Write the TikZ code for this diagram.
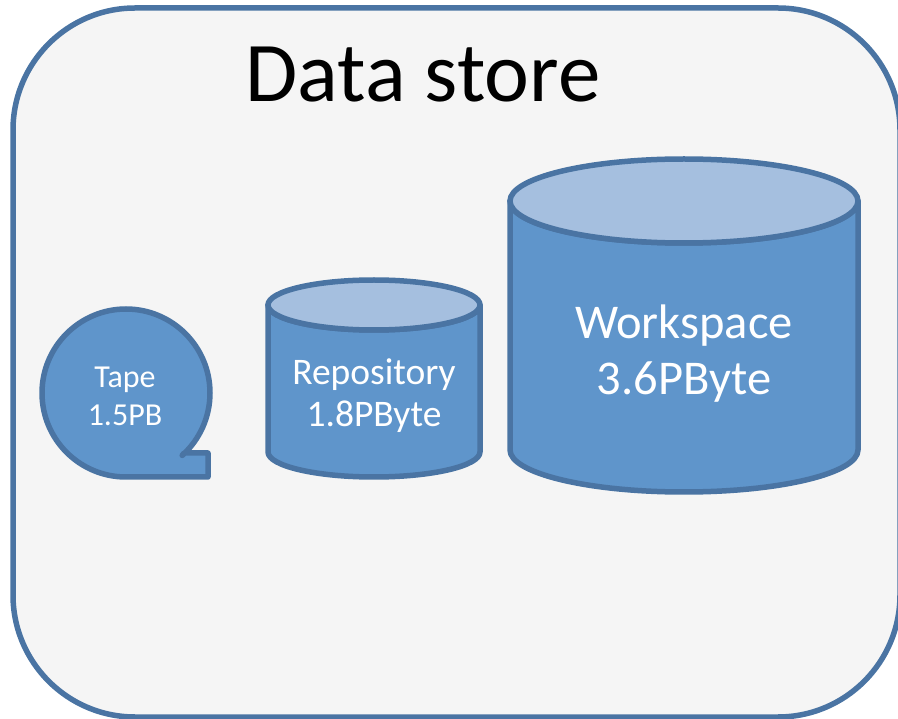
\documentclass[tikz,border=0pt]{standalone}
\usepackage{fontspec}
\setmainfont{Carlito}
\definecolor{edgeb}{HTML}{4A74A3}
\definecolor{fillb}{HTML}{5F95CB}
\definecolor{topb}{HTML}{A5BFDF}
\definecolor{panel}{HTML}{F5F5F5}
\tikzset{shp/.style={draw=edgeb,line width=5.5pt,line join=round,fill=fillb},
top/.style={draw=edgeb,line width=5.5pt,fill=topb},
lbl/.style={text=white,align=center,inner sep=0pt}}
\begin{document}
\begin{tikzpicture}[x=1pt,y=-1pt]
\useasboundingbox (0,0) rectangle (898,719);
\draw[draw=edgeb,line width=5.5pt,fill=panel] (13,130) arc[start angle=180,end angle=270,radius=122] -- (778,8) arc[start angle=270,end angle=360,radius=122] -- (900,595) arc[start angle=0,end angle=90,radius=122] -- (135,717) arc[start angle=90,end angle=180,radius=122] -- cycle;
\node[inner sep=0pt,font=\fontsize{85}{100}\selectfont] (title) at (423,75) {Data store};
% tape
\draw[shp] (208,477) -- (126,477) arc[start angle=90,end angle=360,radius=84] arc[start angle=0,end angle=48,radius=84] -- (184,453) -- (208,453) -- cycle;
\node[lbl,font=\fontsize{32}{38}\selectfont] (tape) at (125,396) {Tape\\1.5PB};
% repository
\draw[shp] (268,305) -- (268,452) arc[start angle=180,end angle=0,x radius=106,y radius=25] -- (480,305) arc[start angle=0,end angle=180,x radius=106,y radius=25] -- cycle;
\draw[top] (374,305) ellipse[x radius=106,y radius=25];
\node[lbl,font=\fontsize{37.5}{42}\selectfont] (repo) at (374,396) {Repository\\1.8PByte};
% workspace
\draw[shp] (510,201) -- (510,450) arc[start angle=180,end angle=0,x radius=174,y radius=42] -- (858,201) arc[start angle=0,end angle=180,x radius=174,y radius=42] -- cycle;
\draw[top] (684,201) ellipse[x radius=174,y radius=42];
\node[lbl,font=\fontsize{48.5}{56}\selectfont] (work) at (684,354) {Workspace\\3.6PByte};
\end{tikzpicture}
\end{document}
